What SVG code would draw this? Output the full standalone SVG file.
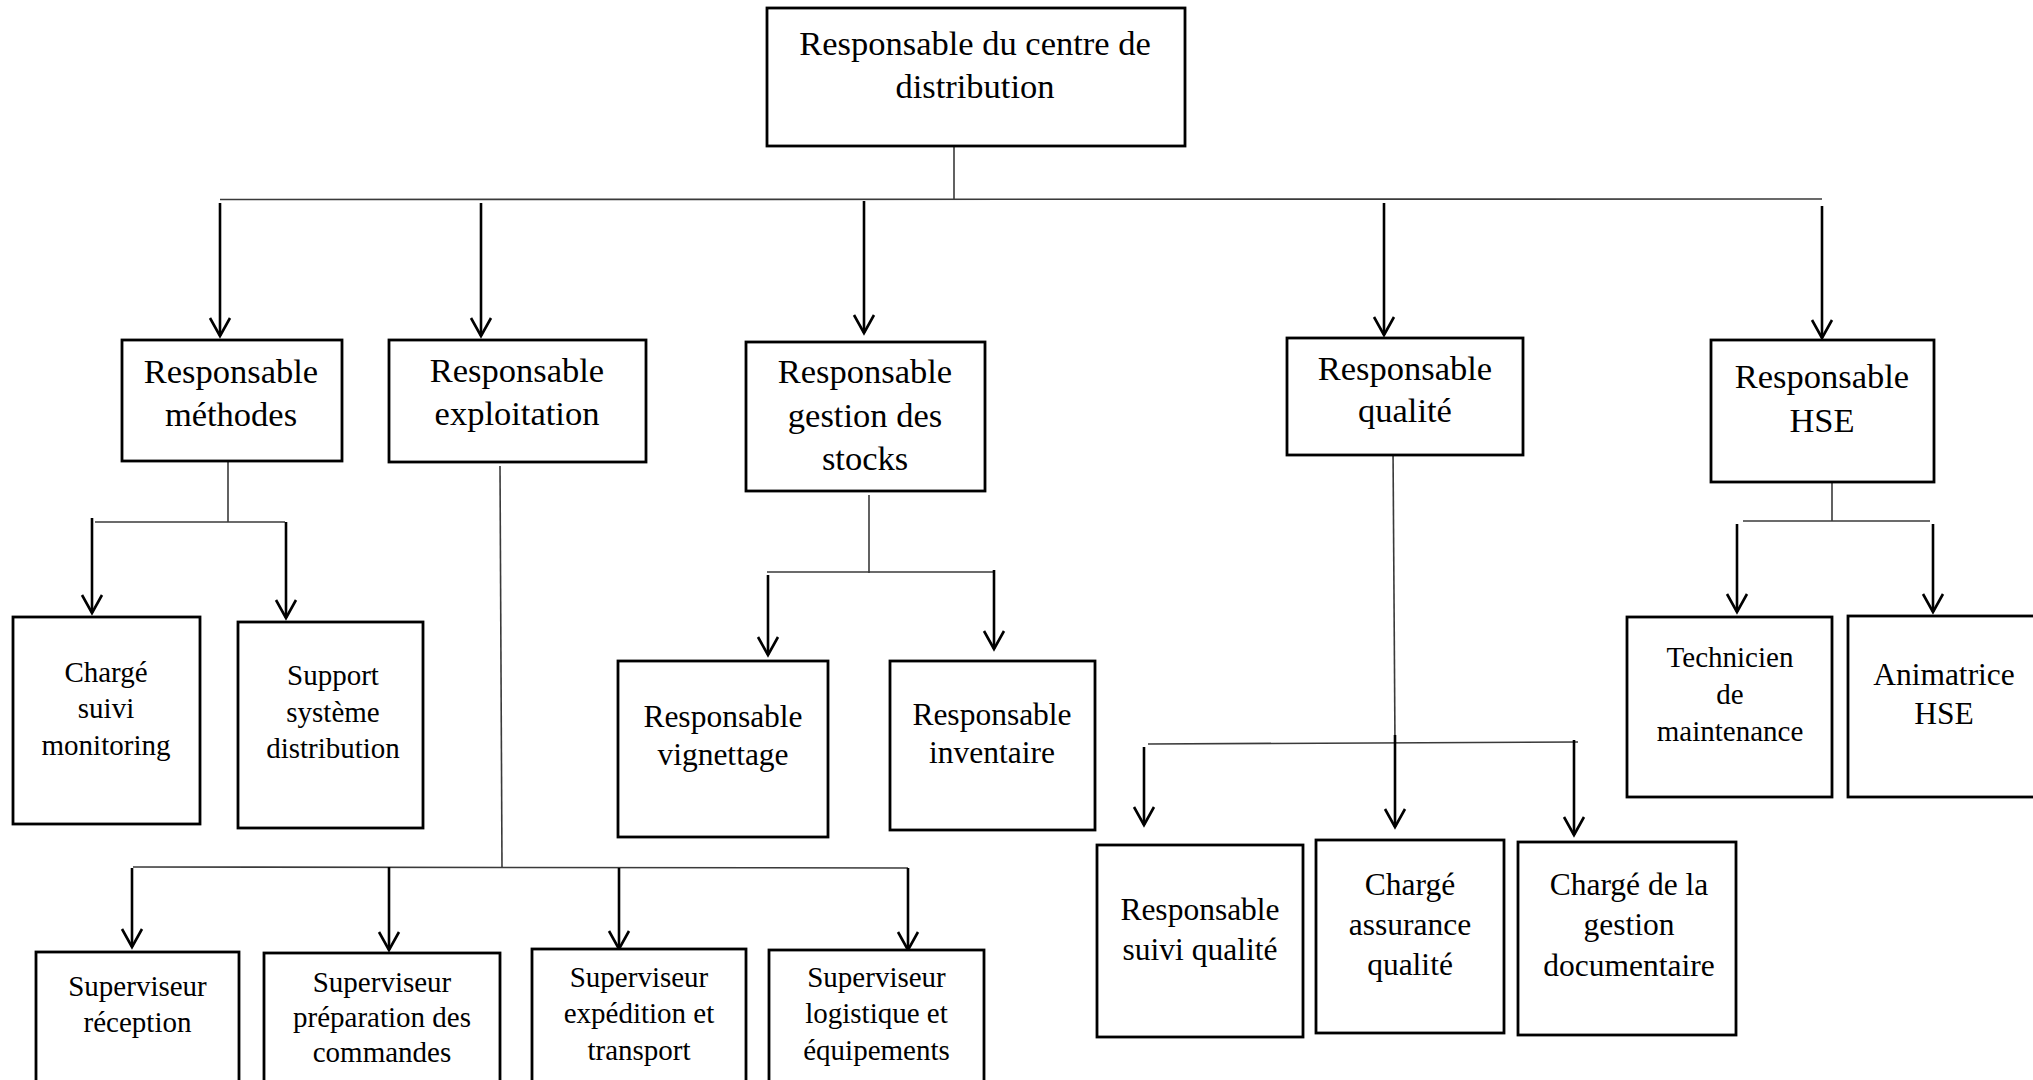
<svg xmlns="http://www.w3.org/2000/svg" width="2033" height="1080" viewBox="0 0 2033 1080">
  <style>
    .box { fill: #ffffff; stroke: #000000; stroke-width: 2.8; }
    .t { font-family: "Liberation Serif", "Times New Roman", serif; fill: #000000; text-anchor: middle; }
    .l { font-size: 34.5px; }
    .m { font-size: 31.5px; }
    .s { font-size: 29px; }
    .thin { stroke: #3a3a3a; stroke-width: 1.6; fill: none; }
    .arr { stroke: #000000; stroke-width: 2.6; fill: none; marker-end: url(#vhead); }
  </style>
  <defs>
    <marker id="vhead" markerUnits="userSpaceOnUse" viewBox="-21 -12 24 24" refX="0" refY="0" markerWidth="24" markerHeight="24" orient="auto" overflow="visible">
      <path d="M-18,-10 L0,0 L-18,10" fill="none" stroke="#000000" stroke-width="2.6" stroke-linejoin="miter"/>
    </marker>
  </defs>
  <rect width="2033" height="1080" fill="#ffffff"/>

  <!-- connectors -->
  <g id="connectors">
    <!-- director to department heads -->
    <line class="thin" x1="954" y1="146" x2="954" y2="199"/>
    <line class="thin" x1="220" y1="199.5" x2="1822" y2="199"/>
    <line class="arr" x1="220" y1="203" x2="220" y2="336"/>
    <line class="arr" x1="481" y1="203" x2="481" y2="336"/>
    <line class="arr" x1="864" y1="201" x2="864" y2="333"/>
    <line class="arr" x1="1384" y1="203" x2="1384" y2="335"/>
    <line class="arr" x1="1822" y1="206" x2="1822" y2="338"/>
    <!-- méthodes -->
    <line class="thin" x1="228" y1="461" x2="228" y2="522"/>
    <line class="thin" x1="95" y1="522" x2="285" y2="522"/>
    <line class="arr" x1="92" y1="518" x2="92" y2="613"/>
    <line class="arr" x1="286" y1="522" x2="286" y2="618"/>
    <!-- exploitation -->
    <line class="thin" x1="500" y1="466" x2="502" y2="867"/>
    <line class="thin" x1="133" y1="867" x2="908" y2="868"/>
    <line class="arr" x1="132" y1="868" x2="132" y2="947"/>
    <line class="arr" x1="389" y1="867" x2="389" y2="950"/>
    <line class="arr" x1="619" y1="868" x2="619" y2="949"/>
    <line class="arr" x1="908" y1="868" x2="908" y2="950"/>
    <!-- gestion des stocks -->
    <line class="thin" x1="869" y1="495" x2="869" y2="573"/>
    <line class="thin" x1="767" y1="572" x2="993" y2="572"/>
    <line class="arr" x1="768" y1="575" x2="768" y2="655"/>
    <line class="arr" x1="994" y1="570" x2="994" y2="649"/>
    <!-- qualité -->
    <line class="thin" x1="1393" y1="447" x2="1395" y2="744"/>
    <line class="thin" x1="1148" y1="744" x2="1578" y2="742"/>
    <line class="arr" x1="1144" y1="747" x2="1144" y2="825"/>
    <line class="arr" x1="1395" y1="735" x2="1395" y2="827"/>
    <line class="arr" x1="1574" y1="740" x2="1574" y2="835"/>
    <!-- HSE -->
    <line class="thin" x1="1832" y1="482" x2="1832" y2="521"/>
    <line class="thin" x1="1743" y1="521" x2="1930" y2="521"/>
    <line class="arr" x1="1737" y1="524" x2="1737" y2="612"/>
    <line class="arr" x1="1933" y1="524" x2="1933" y2="612"/>
  </g>

  <g id="n-directeur">
    <rect class="box" x="767" y="8" width="418" height="138"/>
    <text class="t l" x="975" y="55">Responsable du centre de</text>
    <text class="t l" x="975" y="98">distribution</text>
  </g>

  <g id="n-methodes">
    <rect class="box" x="122" y="340" width="220" height="121"/>
    <text class="t l" x="231" y="383">Responsable</text>
    <text class="t l" x="231" y="426">méthodes</text>
  </g>

  <g id="n-exploitation">
    <rect class="box" x="389" y="340" width="257" height="122"/>
    <text class="t l" x="517" y="382">Responsable</text>
    <text class="t l" x="517" y="425">exploitation</text>
  </g>

  <g id="n-stocks">
    <rect class="box" x="746" y="342" width="239" height="149"/>
    <text class="t l" x="865" y="383">Responsable</text>
    <text class="t l" x="865" y="427">gestion des</text>
    <text class="t l" x="865" y="470">stocks</text>
  </g>

  <g id="n-qualite">
    <rect class="box" x="1287" y="338" width="236" height="117"/>
    <text class="t l" x="1405" y="380">Responsable</text>
    <text class="t l" x="1405" y="422">qualité</text>
  </g>

  <g id="n-hse">
    <rect class="box" x="1711" y="340" width="223" height="142"/>
    <text class="t l" x="1822" y="388">Responsable</text>
    <text class="t l" x="1822" y="432">HSE</text>
  </g>

  <g id="n-suivi-monitoring">
    <rect class="box" x="13" y="617" width="187" height="207"/>
    <text class="t s" x="106" y="682">Chargé</text>
    <text class="t s" x="106" y="718">suivi</text>
    <text class="t s" x="106" y="755">monitoring</text>
  </g>

  <g id="n-support">
    <rect class="box" x="238" y="622" width="185" height="206"/>
    <text class="t s" x="333" y="685">Support</text>
    <text class="t s" x="333" y="722">système</text>
    <text class="t s" x="333" y="758">distribution</text>
  </g>

  <g id="n-vignettage">
    <rect class="box" x="618" y="661" width="210" height="176"/>
    <text class="t m" x="723" y="727">Responsable</text>
    <text class="t m" x="723" y="765">vignettage</text>
  </g>

  <g id="n-inventaire">
    <rect class="box" x="890" y="661" width="205" height="169"/>
    <text class="t m" x="992" y="725">Responsable</text>
    <text class="t m" x="992" y="763">inventaire</text>
  </g>

  <g id="n-suivi-qualite">
    <rect class="box" x="1097" y="845" width="206" height="192"/>
    <text class="t m" x="1200" y="920">Responsable</text>
    <text class="t m" x="1200" y="960">suivi qualité</text>
  </g>

  <g id="n-assurance">
    <rect class="box" x="1316" y="840" width="188" height="193"/>
    <text class="t m" x="1410" y="895">Chargé</text>
    <text class="t m" x="1410" y="935">assurance</text>
    <text class="t m" x="1410" y="975">qualité</text>
  </g>

  <g id="n-documentaire">
    <rect class="box" x="1518" y="842" width="218" height="193"/>
    <text class="t m" x="1629" y="895">Chargé de la</text>
    <text class="t m" x="1629" y="935">gestion</text>
    <text class="t m" x="1629" y="976">documentaire</text>
  </g>

  <g id="n-technicien">
    <rect class="box" x="1627" y="617" width="205" height="180"/>
    <text class="t s" x="1730" y="667">Technicien</text>
    <text class="t s" x="1730" y="704">de</text>
    <text class="t s" x="1730" y="741">maintenance</text>
  </g>

  <g id="n-animatrice">
    <rect class="box" x="1848" y="616" width="200" height="181"/>
    <text class="t m" x="1944" y="685">Animatrice</text>
    <text class="t m" x="1944" y="724">HSE</text>
  </g>

  <g id="n-reception">
    <rect class="box" x="36" y="952" width="203" height="150"/>
    <text class="t s" x="137.5" y="996">Superviseur</text>
    <text class="t s" x="137.5" y="1032">réception</text>
  </g>

  <g id="n-preparation">
    <rect class="box" x="264" y="953" width="236" height="150"/>
    <text class="t s" x="382" y="992">Superviseur</text>
    <text class="t s" x="382" y="1027">préparation des</text>
    <text class="t s" x="382" y="1062">commandes</text>
  </g>

  <g id="n-expedition">
    <rect class="box" x="532" y="949" width="214" height="150"/>
    <text class="t s" x="639" y="987">Superviseur</text>
    <text class="t s" x="639" y="1023">expédition et</text>
    <text class="t s" x="639" y="1060">transport</text>
  </g>

  <g id="n-logistique">
    <rect class="box" x="769" y="950" width="215" height="150"/>
    <text class="t s" x="876.5" y="987">Superviseur</text>
    <text class="t s" x="876.5" y="1023">logistique et</text>
    <text class="t s" x="876.5" y="1060">équipements</text>
  </g>
</svg>
